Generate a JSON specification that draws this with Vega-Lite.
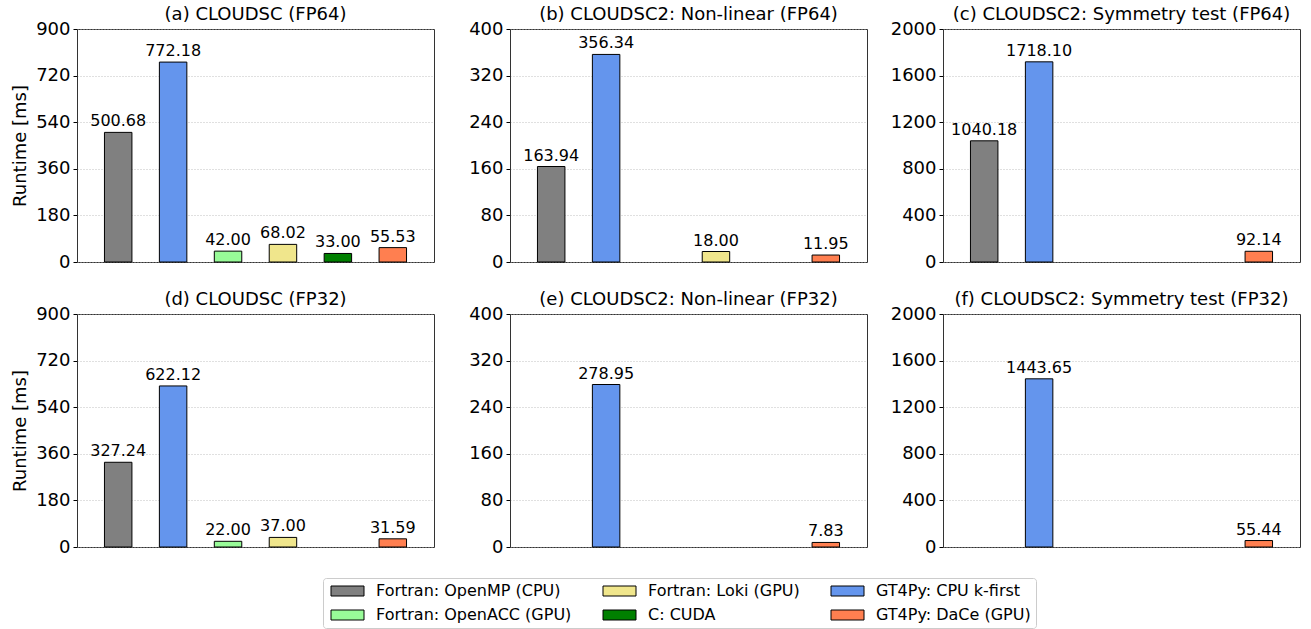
{
  "$schema": "https://vega.github.io/schema/vega-lite/v6.json",
  "padding": {"left": 11, "top": 5, "right": 5, "bottom": 0},
  "data": {"values": [
    {"panel": "a", "impl": "Fortran: OpenMP (CPU)", "runtime": 500.68},
    {"panel": "a", "impl": "GT4Py: CPU k-first", "runtime": 772.18},
    {"panel": "a", "impl": "Fortran: OpenACC (GPU)", "runtime": 42.00},
    {"panel": "a", "impl": "Fortran: Loki (GPU)", "runtime": 68.02},
    {"panel": "a", "impl": "C: CUDA", "runtime": 33.00},
    {"panel": "a", "impl": "GT4Py: DaCe (GPU)", "runtime": 55.53},
    {"panel": "b", "impl": "Fortran: OpenMP (CPU)", "runtime": 163.94},
    {"panel": "b", "impl": "GT4Py: CPU k-first", "runtime": 356.34},
    {"panel": "b", "impl": "Fortran: Loki (GPU)", "runtime": 18.00},
    {"panel": "b", "impl": "GT4Py: DaCe (GPU)", "runtime": 11.95},
    {"panel": "c", "impl": "Fortran: OpenMP (CPU)", "runtime": 1040.18},
    {"panel": "c", "impl": "GT4Py: CPU k-first", "runtime": 1718.10},
    {"panel": "c", "impl": "GT4Py: DaCe (GPU)", "runtime": 92.14},
    {"panel": "d", "impl": "Fortran: OpenMP (CPU)", "runtime": 327.24},
    {"panel": "d", "impl": "GT4Py: CPU k-first", "runtime": 622.12},
    {"panel": "d", "impl": "Fortran: OpenACC (GPU)", "runtime": 22.00},
    {"panel": "d", "impl": "Fortran: Loki (GPU)", "runtime": 37.00},
    {"panel": "d", "impl": "GT4Py: DaCe (GPU)", "runtime": 31.59},
    {"panel": "e", "impl": "GT4Py: CPU k-first", "runtime": 278.95},
    {"panel": "e", "impl": "GT4Py: DaCe (GPU)", "runtime": 7.83},
    {"panel": "f", "impl": "GT4Py: CPU k-first", "runtime": 1443.65},
    {"panel": "f", "impl": "GT4Py: DaCe (GPU)", "runtime": 55.44}
  ]},
  "columns": 3,
  "spacing": {"row": 52, "column": 76},
  "bounds": "flush",
  "resolve": {"scale": {"x": "independent", "y": "independent", "color": "shared"}, "legend": {"color": "shared"}},
  "concat": [
    {
      "title": "(a) CLOUDSC (FP64)",
      "width": 357, "height": 233,
      "transform": [{"filter": "datum.panel === 'a'"}],
      "encoding": {
        "x": {"field": "impl", "type": "nominal", "scale": {"domain": ["Fortran: OpenMP (CPU)", "GT4Py: CPU k-first", "Fortran: OpenACC (GPU)", "Fortran: Loki (GPU)", "C: CUDA", "GT4Py: DaCe (GPU)"], "paddingInner": 0.5, "paddingOuter": 0.5}, "axis": null},
        "y": {"field": "runtime", "type": "quantitative", "scale": {"domain": [0, 900], "nice": false}, "axis": {"values": [0, 180, 360, 540, 720, 900], "format": "d", "title": "Runtime [ms]"}}
      },
      "layer": [
        {"mark": {"type": "bar", "stroke": "black", "strokeWidth": 1, "opacity": 1},
         "encoding": {"color": {"field": "impl", "type": "nominal",
           "scale": {"domain": ["Fortran: OpenMP (CPU)", "Fortran: Loki (GPU)", "GT4Py: CPU k-first", "Fortran: OpenACC (GPU)", "C: CUDA", "GT4Py: DaCe (GPU)"], "range": ["#808080", "#F0E68C", "#6495ED", "#98FB98", "#008000", "#FF7F50"]},
           "legend": {"orient": "none", "legendX": 246, "legendY": 549, "columns": 3, "title": null, "direction": "horizontal"}}}},
        {"mark": {"type": "text", "baseline": "bottom", "dy": -3, "fontSize": 16, "font": "DejaVu Sans", "color": "black"},
         "encoding": {"text": {"field": "runtime", "type": "quantitative", "format": ".2f"}}}
      ]
    },
    {
      "title": "(b) CLOUDSC2: Non-linear (FP64)",
      "width": 357, "height": 233,
      "transform": [{"filter": "datum.panel === 'b'"}],
      "encoding": {
        "x": {"field": "impl", "type": "nominal", "scale": {"domain": ["Fortran: OpenMP (CPU)", "GT4Py: CPU k-first", "Fortran: OpenACC (GPU)", "Fortran: Loki (GPU)", "C: CUDA", "GT4Py: DaCe (GPU)"], "paddingInner": 0.5, "paddingOuter": 0.5}, "axis": null},
        "y": {"field": "runtime", "type": "quantitative", "scale": {"domain": [0, 400], "nice": false}, "axis": {"values": [0, 80, 160, 240, 320, 400], "format": "d", "title": null}}
      },
      "layer": [
        {"mark": {"type": "bar", "stroke": "black", "strokeWidth": 1, "opacity": 1},
         "encoding": {"color": {"field": "impl", "type": "nominal",
           "scale": {"domain": ["Fortran: OpenMP (CPU)", "Fortran: Loki (GPU)", "GT4Py: CPU k-first", "Fortran: OpenACC (GPU)", "C: CUDA", "GT4Py: DaCe (GPU)"], "range": ["#808080", "#F0E68C", "#6495ED", "#98FB98", "#008000", "#FF7F50"]}}}},
        {"mark": {"type": "text", "baseline": "bottom", "dy": -3, "fontSize": 16, "font": "DejaVu Sans", "color": "black"},
         "encoding": {"text": {"field": "runtime", "type": "quantitative", "format": ".2f"}}}
      ]
    },
    {
      "title": "(c) CLOUDSC2: Symmetry test (FP64)",
      "width": 357, "height": 233,
      "transform": [{"filter": "datum.panel === 'c'"}],
      "encoding": {
        "x": {"field": "impl", "type": "nominal", "scale": {"domain": ["Fortran: OpenMP (CPU)", "GT4Py: CPU k-first", "Fortran: OpenACC (GPU)", "Fortran: Loki (GPU)", "C: CUDA", "GT4Py: DaCe (GPU)"], "paddingInner": 0.5, "paddingOuter": 0.5}, "axis": null},
        "y": {"field": "runtime", "type": "quantitative", "scale": {"domain": [0, 2000], "nice": false}, "axis": {"values": [0, 400, 800, 1200, 1600, 2000], "format": "d", "title": null}}
      },
      "layer": [
        {"mark": {"type": "bar", "stroke": "black", "strokeWidth": 1, "opacity": 1},
         "encoding": {"color": {"field": "impl", "type": "nominal",
           "scale": {"domain": ["Fortran: OpenMP (CPU)", "Fortran: Loki (GPU)", "GT4Py: CPU k-first", "Fortran: OpenACC (GPU)", "C: CUDA", "GT4Py: DaCe (GPU)"], "range": ["#808080", "#F0E68C", "#6495ED", "#98FB98", "#008000", "#FF7F50"]}}}},
        {"mark": {"type": "text", "baseline": "bottom", "dy": -3, "fontSize": 16, "font": "DejaVu Sans", "color": "black"},
         "encoding": {"text": {"field": "runtime", "type": "quantitative", "format": ".2f"}}}
      ]
    },
    {
      "title": "(d) CLOUDSC (FP32)",
      "width": 357, "height": 233,
      "transform": [{"filter": "datum.panel === 'd'"}],
      "encoding": {
        "x": {"field": "impl", "type": "nominal", "scale": {"domain": ["Fortran: OpenMP (CPU)", "GT4Py: CPU k-first", "Fortran: OpenACC (GPU)", "Fortran: Loki (GPU)", "C: CUDA", "GT4Py: DaCe (GPU)"], "paddingInner": 0.5, "paddingOuter": 0.5}, "axis": null},
        "y": {"field": "runtime", "type": "quantitative", "scale": {"domain": [0, 900], "nice": false}, "axis": {"values": [0, 180, 360, 540, 720, 900], "format": "d", "title": "Runtime [ms]"}}
      },
      "layer": [
        {"mark": {"type": "bar", "stroke": "black", "strokeWidth": 1, "opacity": 1},
         "encoding": {"color": {"field": "impl", "type": "nominal",
           "scale": {"domain": ["Fortran: OpenMP (CPU)", "Fortran: Loki (GPU)", "GT4Py: CPU k-first", "Fortran: OpenACC (GPU)", "C: CUDA", "GT4Py: DaCe (GPU)"], "range": ["#808080", "#F0E68C", "#6495ED", "#98FB98", "#008000", "#FF7F50"]}}}},
        {"mark": {"type": "text", "baseline": "bottom", "dy": -3, "fontSize": 16, "font": "DejaVu Sans", "color": "black"},
         "encoding": {"text": {"field": "runtime", "type": "quantitative", "format": ".2f"}}}
      ]
    },
    {
      "title": "(e) CLOUDSC2: Non-linear (FP32)",
      "width": 357, "height": 233,
      "transform": [{"filter": "datum.panel === 'e'"}],
      "encoding": {
        "x": {"field": "impl", "type": "nominal", "scale": {"domain": ["Fortran: OpenMP (CPU)", "GT4Py: CPU k-first", "Fortran: OpenACC (GPU)", "Fortran: Loki (GPU)", "C: CUDA", "GT4Py: DaCe (GPU)"], "paddingInner": 0.5, "paddingOuter": 0.5}, "axis": null},
        "y": {"field": "runtime", "type": "quantitative", "scale": {"domain": [0, 400], "nice": false}, "axis": {"values": [0, 80, 160, 240, 320, 400], "format": "d", "title": null}}
      },
      "layer": [
        {"mark": {"type": "bar", "stroke": "black", "strokeWidth": 1, "opacity": 1},
         "encoding": {"color": {"field": "impl", "type": "nominal",
           "scale": {"domain": ["Fortran: OpenMP (CPU)", "Fortran: Loki (GPU)", "GT4Py: CPU k-first", "Fortran: OpenACC (GPU)", "C: CUDA", "GT4Py: DaCe (GPU)"], "range": ["#808080", "#F0E68C", "#6495ED", "#98FB98", "#008000", "#FF7F50"]}}}},
        {"mark": {"type": "text", "baseline": "bottom", "dy": -3, "fontSize": 16, "font": "DejaVu Sans", "color": "black"},
         "encoding": {"text": {"field": "runtime", "type": "quantitative", "format": ".2f"}}}
      ]
    },
    {
      "title": "(f) CLOUDSC2: Symmetry test (FP32)",
      "width": 357, "height": 233,
      "transform": [{"filter": "datum.panel === 'f'"}],
      "encoding": {
        "x": {"field": "impl", "type": "nominal", "scale": {"domain": ["Fortran: OpenMP (CPU)", "GT4Py: CPU k-first", "Fortran: OpenACC (GPU)", "Fortran: Loki (GPU)", "C: CUDA", "GT4Py: DaCe (GPU)"], "paddingInner": 0.5, "paddingOuter": 0.5}, "axis": null},
        "y": {"field": "runtime", "type": "quantitative", "scale": {"domain": [0, 2000], "nice": false}, "axis": {"values": [0, 400, 800, 1200, 1600, 2000], "format": "d", "title": null}}
      },
      "layer": [
        {"mark": {"type": "bar", "stroke": "black", "strokeWidth": 1, "opacity": 1},
         "encoding": {"color": {"field": "impl", "type": "nominal",
           "scale": {"domain": ["Fortran: OpenMP (CPU)", "Fortran: Loki (GPU)", "GT4Py: CPU k-first", "Fortran: OpenACC (GPU)", "C: CUDA", "GT4Py: DaCe (GPU)"], "range": ["#808080", "#F0E68C", "#6495ED", "#98FB98", "#008000", "#FF7F50"]}}}},
        {"mark": {"type": "text", "baseline": "bottom", "dy": -3, "fontSize": 16, "font": "DejaVu Sans", "color": "black"},
         "encoding": {"text": {"field": "runtime", "type": "quantitative", "format": ".2f"}}}
      ]
    }
  ],
  "config": {
    "font": "DejaVu Sans",
    "view": {"stroke": "#333333", "strokeWidth": 1},
    "title": {"fontSize": 18, "fontWeight": "normal", "font": "DejaVu Sans", "color": "black", "offset": -4},
    "axis": {
      "domain": false,
      "tickColor": "black", "tickSize": 4, "tickWidth": 1,
      "labelFontSize": 18, "labelFont": "DejaVu Sans", "labelColor": "black", "labelPadding": 3,
      "titleFontSize": 18, "titleFont": "DejaVu Sans", "titleFontWeight": "normal", "titleColor": "black", "titlePadding": 6,
      "gridColor": "#b0b0b0", "gridDash": [1, 2], "gridWidth": 0.8
    },
    "legend": {
      "labelFontSize": 16, "labelFont": "DejaVu Sans", "labelColor": "black", "labelLimit": 400,
      "symbolType": "M-1,-1H5.6V1H-1Z", "symbolSize": 100, "symbolStrokeColor": "black", "symbolStrokeWidth": 1, "symbolOpacity": 1,
      "strokeColor": "#cccccc", "padding": 5, "cornerRadius": 3, "fillColor": "white",
      "rowPadding": 8, "columnPadding": 28, "labelOffset": 32, "gridAlign": "each"
    }
  }
}
